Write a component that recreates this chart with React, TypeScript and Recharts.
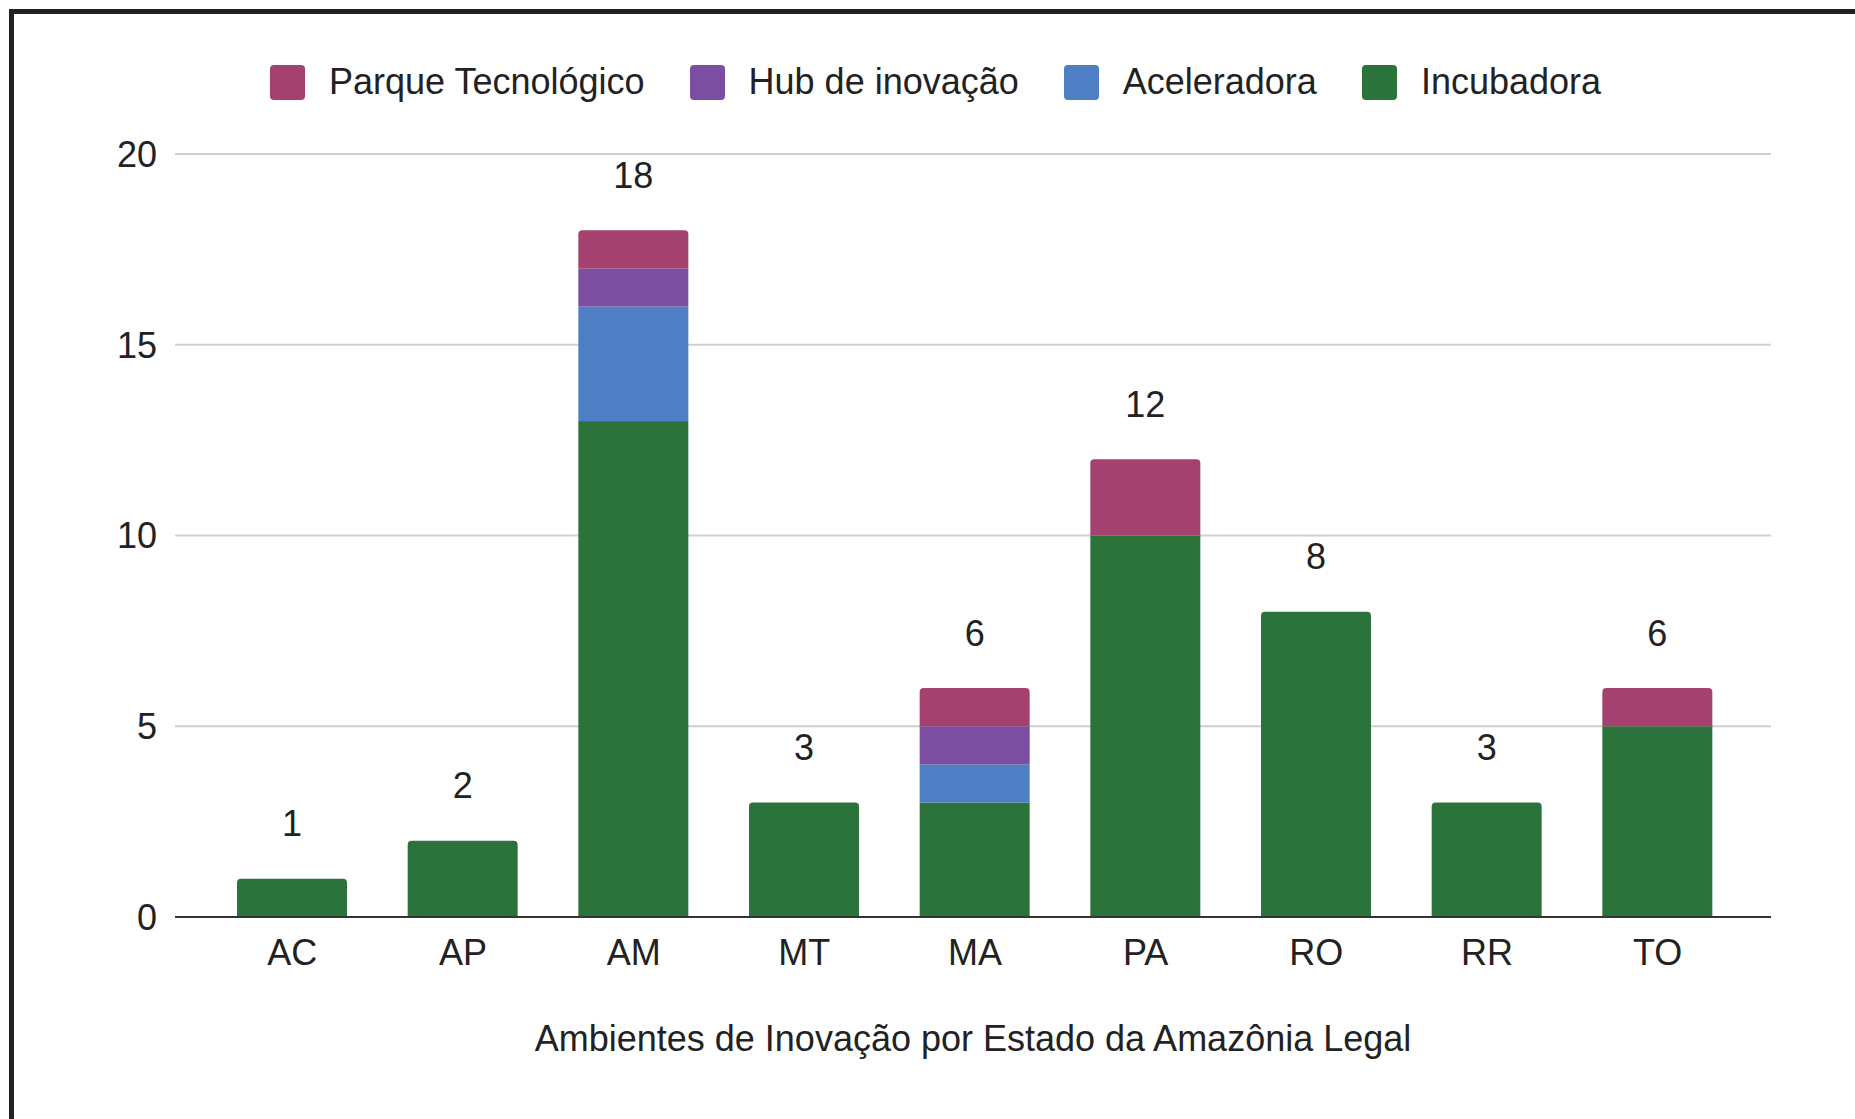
import { BarChart, Bar, XAxis, YAxis, CartesianGrid, LabelList } from "recharts";

const estados = ["AC", "AP", "AM", "MT", "MA", "PA", "RO", "RR", "TO"];
const incubadora = [1, 2, 13, 3, 3, 10, 8, 3, 5];
const aceleradora = [0, 0, 3, 0, 1, 0, 0, 0, 0];
const hub = [0, 0, 1, 0, 1, 0, 0, 0, 0];
const parque = [0, 0, 1, 0, 1, 2, 0, 0, 1];
const yTicks = [0, 5, 10, 15, 20];

const FONT = '"Liberation Sans", Arial, sans-serif';
const TEXT = "#222";
const FS = 36;

// stacking order bottom -> top
const series = [
  { key: "incubadora", name: "Incubadora", color: "#2b733b" },
  { key: "aceleradora", name: "Aceleradora", color: "#4e7ec4" },
  { key: "hub", name: "Hub de inovação", color: "#7b4ea2" },
  { key: "parque", name: "Parque Tecnológico", color: "#a4416f" },
];

const data = estados.map((e, i) => ({
  estado: e,
  incubadora: incubadora[i],
  aceleradora: aceleradora[i],
  hub: hub[i],
  parque: parque[i],
  total: incubadora[i] + aceleradora[i] + hub[i] + parque[i],
}));

// rounded top corners only on the highest non-empty segment
function makeShape(idx: number) {
  return (props: any) => {
    const { x, y, width, height, fill, payload } = props;
    if (!height || height <= 0) return <g />;
    const above = series.slice(idx + 1).some((s) => payload[s.key] > 0);
    if (above) return <rect x={x} y={y} width={width} height={height} fill={fill} />;
    const r = Math.min(4, height);
    const d = `M${x},${y + height} L${x},${y + r} Q${x},${y} ${x + r},${y} L${x + width - r},${y} Q${x + width},${y} ${x + width},${y + r} L${x + width},${y + height} Z`;
    return <path d={d} fill={fill} />;
  };
}

function TotalLabel(props: any) {
  const { x, y, width, index } = props;
  return (
    <text
      x={x + width / 2}
      y={y - 55}
      textAnchor="middle"
      dominantBaseline="central"
      fill={TEXT}
      fontSize={FS}
      fontFamily={FONT}
    >
      {data[index].total}
    </text>
  );
}

function LegendBox() {
  const items = [...series].reverse();
  return (
    <div
      style={{
        position: "absolute",
        left: 270,
        top: 64,
        display: "flex",
        alignItems: "center",
        fontFamily: FONT,
        fontSize: FS,
        color: TEXT,
        whiteSpace: "nowrap",
      }}
    >
      {items.map((s, i) => (
        <div key={s.key} style={{ display: "flex", alignItems: "center", marginLeft: i === 0 ? 0 : 45 }}>
          <span style={{ width: 35, height: 35, background: s.color, borderRadius: 4, display: "inline-block" }} />
          <span style={{ marginLeft: 24, lineHeight: "36px" }}>{s.name}</span>
        </div>
      ))}
    </div>
  );
}

export default function App() {
  return (
    <div style={{ position: "absolute", left: 0, top: 0, width: 1855, height: 1119, background: "#fff", overflow: "hidden" }}>
      <div
        style={{
          position: "absolute",
          left: 9,
          top: 9,
          right: -10,
          bottom: -10,
          borderTop: "5px solid #222",
          borderLeft: "5px solid #222",
        }}
      />
      <LegendBox />
      <div style={{ position: "absolute", left: 0, top: 0 }}>
        <BarChart
          width={1855}
          height={1119}
          data={data}
          margin={{ top: 154, right: 84, left: 115, bottom: 0 }}
        >
          <CartesianGrid vertical={false} stroke="#d0d0d0" strokeWidth={2} />
          <YAxis
            width={60}
            domain={[0, 20]}
            ticks={yTicks}
            axisLine={false}
            tickLine={false}
            tickSize={0}
            tickMargin={18}
            tick={{ fill: TEXT, fontSize: FS, fontFamily: FONT }}
          />
          <XAxis
            dataKey="estado"
            height={202}
            padding={{ left: 32, right: 28 }}
            axisLine={{ stroke: "#333", strokeWidth: 2 }}
            tickLine={false}
            tickSize={0}
            tickMargin={22}
            tick={{ fill: TEXT, fontSize: FS, fontFamily: FONT }}
            label={{
              value: "Ambientes de Inovação por Estado da Amazônia Legal",
              position: "insideBottom",
              offset: 68,
              fill: TEXT,
              fontSize: FS,
              fontFamily: FONT,
            }}
          />
          {series.map((s, i) => (
            <Bar
              key={s.key}
              dataKey={s.key}
              name={s.name}
              stackId="a"
              fill={s.color}
              barSize={110}
              shape={makeShape(i)}
              isAnimationActive={false}
            >
              {s.key === "parque" && <LabelList dataKey="total" content={TotalLabel} />}
            </Bar>
          ))}
        </BarChart>
      </div>
    </div>
  );
}
